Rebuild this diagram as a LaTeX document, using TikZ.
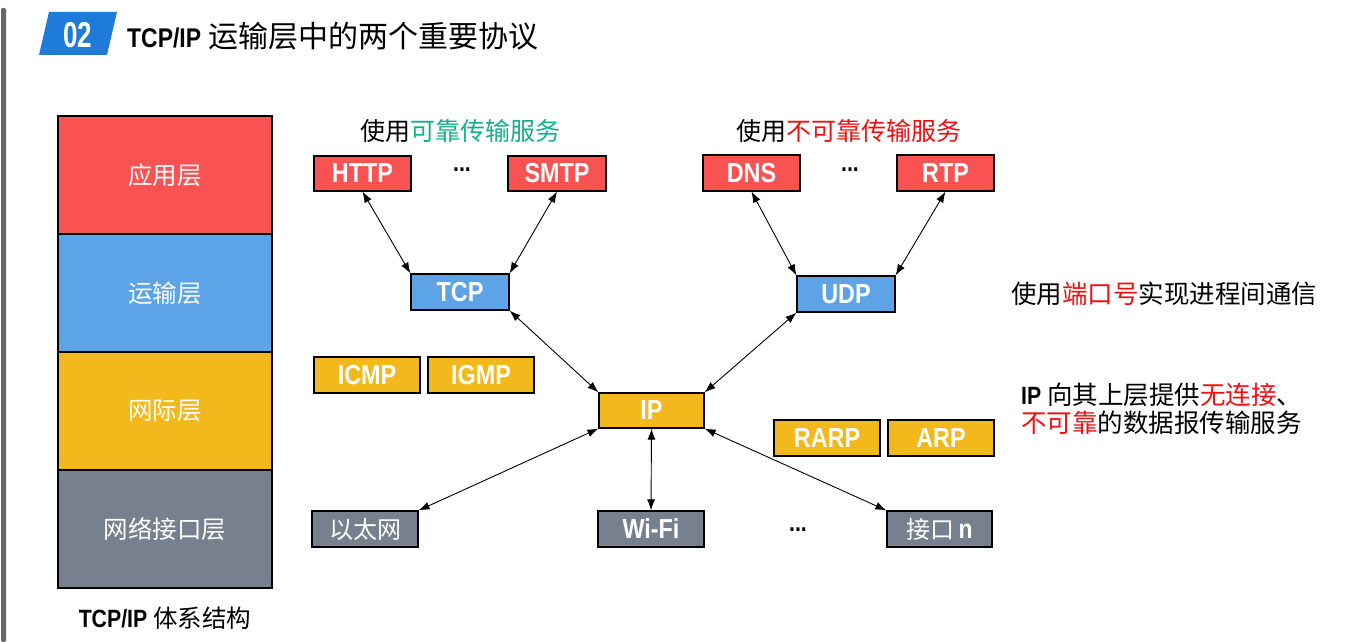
\documentclass[tikz,border=0pt]{standalone}
\usepackage{fontspec}
\setmainfont{Noto Sans CJK SC}
\newfontfamily\cond{Liberation Sans}[FakeStretch=0.85]
\usetikzlibrary{arrows.meta}
\definecolor{lred}{HTML}{F95252}
\definecolor{lblue}{HTML}{5CA3E8}
\definecolor{lyellow}{HTML}{F3B81B}
\definecolor{lgray}{HTML}{76808F}
\definecolor{banner}{HTML}{1F7BDA}
\definecolor{teal}{HTML}{12B08C}
\definecolor{hot}{HTML}{EE1111}
\tikzset{
  layer/.style={draw=black, line width=1.2pt, text=white, minimum width=214pt, minimum height=118pt, inner sep=0pt, font=\fontsize{24.5}{24.5}\selectfont},
  proto/.style={draw=black, line width=1.2pt, text=white, inner sep=0pt, minimum height=36pt, font=\fontsize{27.5}{27.5}\selectfont\cond\bfseries},
  cjkproto/.style={proto, font=\fontsize{24}{24}\selectfont},
  biarrow/.style={{Latex[length=11pt,width=8pt]}-{Latex[length=11pt,width=8pt]}, line width=0.9pt},
  dots/.style={font=\fontsize{25}{25}\selectfont\cond\bfseries, inner sep=0pt},
  head/.style={font=\fontsize{25}{25}\selectfont, inner sep=0pt}
}
\begin{document}
\begin{tikzpicture}[x=1pt,y=-1pt]
\useasboundingbox (0,0) rectangle (1362,642);
\fill[white] (0,0) rectangle (1362,642);
% left bar
\fill[gray!80!black, rounded corners=2pt] (1,8) rectangle (6,642);
% banner
\fill[banner] (49,12) -- (117,12) -- (107,55) -- (39,55) -- cycle;
\node[text=white, inner sep=0pt] (num) at (78,35) {\fontsize{36}{36}\selectfont\cond\bfseries\scalebox{0.85}[1]{02}};
\node[anchor=west, inner sep=0pt] (title) at (127,36) {{\fontsize{27}{27}\selectfont\cond\bfseries TCP/IP}\hspace{7pt}{\fontsize{30}{30}\selectfont 运输层中的两个重要协议}};

% layer stack
\node[layer, fill=lred] (app) at (165,175) {应用层};
\node[layer, fill=lblue] (trans) at (165,293) {运输层};
\node[layer, fill=lyellow] (net) at (165,411) {网际层};
\node[layer, fill=lgray] (link) at (165,529) {网络接口层};
\node[inner sep=0pt] (stackcap) at (165,618) {{\fontsize{25}{25}\selectfont\cond\bfseries TCP/IP}\hspace{6pt}{\fontsize{24.5}{24.5}\selectfont 体系结构}};

% headings
\node[head] (hrel) at (460,131) {使用\textcolor{teal}{可靠传输服务}};
\node[head] (hunrel) at (849,131) {使用\textcolor{hot}{不可靠传输服务}};

% application protocols
\node[proto, fill=lred, minimum width=97pt, minimum height=35pt] (http) at (362.5,173.5) {HTTP};
\node[dots] (d1) at (462,170) {...};
\node[proto, fill=lred, minimum width=98pt, minimum height=35pt] (smtp) at (557,173.5) {SMTP};
\node[proto, fill=lred, minimum width=97pt] (dns) at (751.5,173) {DNS};
\node[dots] (d2) at (850,170) {...};
\node[proto, fill=lred, minimum width=97pt] (rtp) at (945.5,173) {RTP};

% transport
\node[proto, fill=lblue, minimum width=98pt] (tcp) at (460,292) {TCP};
\node[proto, fill=lblue, minimum width=98pt] (udp) at (846,294) {UDP};

% network
\node[proto, fill=lyellow, minimum width=106pt] (icmp) at (367,375) {ICMP};
\node[proto, fill=lyellow, minimum width=106pt] (igmp) at (481,375) {IGMP};
\node[proto, fill=lyellow, minimum width=105pt, minimum height=35pt] (ip) at (651.5,410.5) {IP};
\node[proto, fill=lyellow, minimum width=106pt] (rarp) at (827,438) {RARP};
\node[proto, fill=lyellow, minimum width=106pt] (arp) at (941,438) {ARP};

% link
\node[cjkproto, fill=lgray, minimum width=106pt] (eth) at (365,529) {以太网};
\node[proto, fill=lgray, minimum width=106pt] (wifi) at (651,529) {Wi-Fi};
\node[dots] (d3) at (798,530) {...};
\node[proto, fill=lgray, minimum width=105pt, font=\fontsize{24}{24}\selectfont] (ifn) at (939.5,529) {接口\hspace{4pt}{\fontsize{27}{27}\selectfont\cond\bfseries n}};

% connectors
\draw[biarrow] (http.south) -- (tcp.north west);
\draw[biarrow] (smtp.south) -- (tcp.north east);
\draw[biarrow] (dns.south) -- (udp.north west);
\draw[biarrow] (rtp.south) -- (udp.north east);
\draw[biarrow] (tcp.south east) -- (ip.north west);
\draw[biarrow] (udp.south west) -- (ip.north east);
\draw[biarrow] (ip.south west) -- (eth.north east);
\draw[biarrow] (ip.south) -- (wifi.north);
\draw[biarrow] (ip.south east) -- (ifn.north west);

% right notes
\node[anchor=west, inner sep=0pt, font=\fontsize{25.5}{25.5}\selectfont] (port) at (1011,294) {使用\textcolor{hot}{端口号}实现进程间通信};
\node[anchor=north west, align=left, inner sep=0pt, font=\fontsize{25.5}{28}\selectfont] (ipnote) at (1021,383) {{\fontsize{25}{25}\selectfont\cond\bfseries IP}\hspace{6pt}向其上层提供\textcolor{hot}{无连接}、\\\textcolor{hot}{不可靠}的数据报传输服务};
\end{tikzpicture}
\end{document}
